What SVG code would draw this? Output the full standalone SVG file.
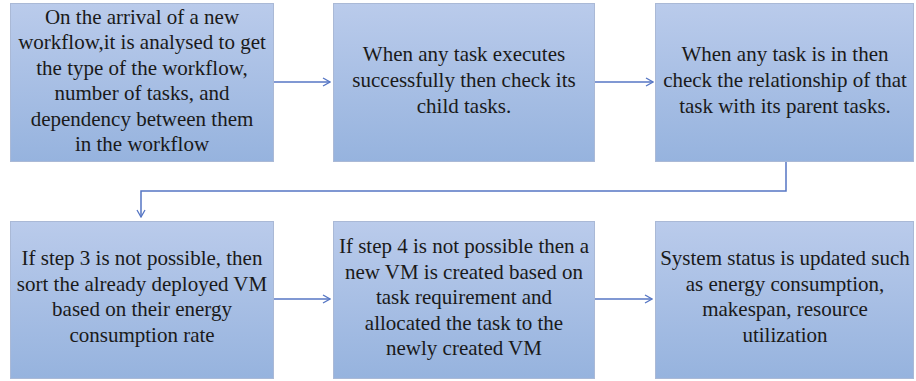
<svg xmlns="http://www.w3.org/2000/svg" width="916" height="381" viewBox="0 0 916 381">
  <defs>
    <linearGradient id="fill" x1="0" y1="0" x2="0" y2="1">
      <stop offset="0" stop-color="#bacbeb"/>
      <stop offset="1" stop-color="#96b3de"/>
    </linearGradient>
    <marker id="arr" viewBox="0 0 10 10" refX="9" refY="5" markerWidth="10" markerHeight="10" markerUnits="userSpaceOnUse" orient="auto">
      <path d="M2,1 L9,5 L2,9" fill="none" stroke="#5676c4" stroke-width="1.3"/>
    </marker>
  </defs>
  <style>
    .box { fill: url(#fill); stroke: #aab9d6; stroke-width: 1; }
    .t { font-family: 'Liberation Serif', 'DejaVu Serif', serif; font-size: 21px; fill: #1a1a1a; text-anchor: middle; }
    .c { fill: none; stroke: #5676c4; stroke-width: 1.5; }
  </style>
  <rect width="916" height="381" fill="#ffffff"/>

  <g id="connectors">
    <line class="c" x1="274" y1="82" x2="330" y2="82" marker-end="url(#arr)"/>
    <line class="c" x1="595" y1="82" x2="653" y2="82" marker-end="url(#arr)"/>
    <polyline class="c" points="786,161 786,191 141,191 141,217" marker-end="url(#arr)"/>
    <line class="c" x1="273" y1="299" x2="330" y2="299" marker-end="url(#arr)"/>
    <line class="c" x1="594" y1="299" x2="652" y2="299" marker-end="url(#arr)"/>
  </g>

  <g id="node1">
    <rect class="box" x="10.5" y="3.5" width="263" height="158"/>
    <text class="t" x="142" y="23.5">On the arrival of a new</text>
    <text class="t" x="142" y="49">workflow,it is analysed to get</text>
    <text class="t" x="142" y="74.5">the type of the workflow,</text>
    <text class="t" x="142" y="100">number of tasks, and</text>
    <text class="t" x="142" y="125.5">dependency between them</text>
    <text class="t" x="142" y="151">in the workflow</text>
  </g>

  <g id="node2">
    <rect class="box" x="333.5" y="3.5" width="261" height="158"/>
    <text class="t" x="464" y="61">When any task executes</text>
    <text class="t" x="464" y="87">successfully then check its</text>
    <text class="t" x="464" y="113">child tasks.</text>
  </g>

  <g id="node3">
    <rect class="box" x="655.5" y="3.5" width="258" height="158"/>
    <text class="t" x="785" y="61">When any task is in then</text>
    <text class="t" x="785" y="87">check the relationship of that</text>
    <text class="t" x="785" y="113">task with its parent tasks.</text>
  </g>

  <g id="node4">
    <rect class="box" x="10.5" y="221.5" width="263" height="157"/>
    <text class="t" x="142" y="265">If step 3 is not possible, then</text>
    <text class="t" x="142" y="290.5">sort the already deployed VM</text>
    <text class="t" x="142" y="316">based on their energy</text>
    <text class="t" x="142" y="341.5">consumption rate</text>
  </g>

  <g id="node5">
    <rect class="box" x="333.5" y="221.5" width="261" height="157"/>
    <text class="t" x="464" y="253">If step 4 is not possible then a</text>
    <text class="t" x="464" y="278.5">new VM is created based on</text>
    <text class="t" x="464" y="304">task requirement and</text>
    <text class="t" x="464" y="329.5">allocated the task to the</text>
    <text class="t" x="464" y="355">newly created VM</text>
  </g>

  <g id="node6">
    <rect class="box" x="655.5" y="221.5" width="258" height="157"/>
    <text class="t" x="785" y="265">System status is updated such</text>
    <text class="t" x="785" y="290.5">as energy consumption,</text>
    <text class="t" x="785" y="316">makespan, resource</text>
    <text class="t" x="785" y="341.5">utilization</text>
  </g>
</svg>
